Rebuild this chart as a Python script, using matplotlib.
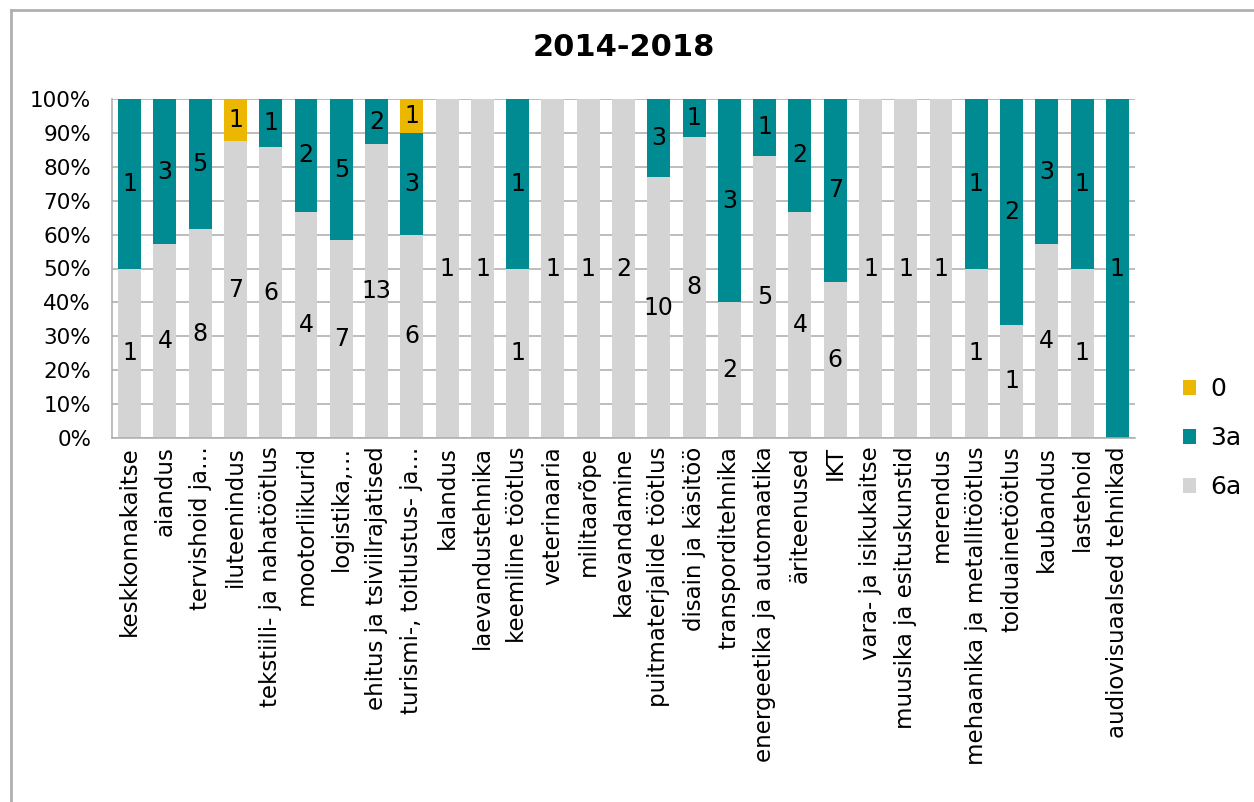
import numpy as np
import matplotlib.pyplot as plt
from matplotlib.lines import Line2D
from matplotlib.ticker import PercentFormatter

categories = ["keskkonnakaitse", "aiandus", "tervishoid ja…", "iluteenindus",
              "tekstiili- ja nahatöötlus", "mootorliikurid", "logistika,…",
              "ehitus ja tsiviilrajatised", "turismi-, toitlustus- ja…", "kalandus",
              "laevandustehnika", "keemiline töötlus", "veterinaaria", "militaarõpe",
              "kaevandamine", "puitmaterjalide töötlus", "disain ja käsitöö",
              "transporditehnika", "energeetika ja automaatika", "äriteenused", "IKT",
              "vara- ja isikukaitse", "muusika ja esituskunstid", "merendus",
              "mehaanika ja metallitöötlus", "toiduainetöötlus", "kaubandus",
              "lastehoid", "audiovisuaalsed tehnikad"]
v6a = [1, 4, 8, 7, 6, 4, 7, 13, 6, 1, 1, 1, 1, 1, 2, 10, 8, 2, 5, 4, 6, 1, 1, 1, 1, 1, 4, 1, 0]
v3a = [1, 3, 5, 0, 1, 2, 5, 2, 3, 0, 0, 1, 0, 0, 0, 3, 1, 3, 1, 2, 7, 0, 0, 0, 1, 2, 3, 1, 1]
v0 = [0, 0, 0, 1, 0, 0, 0, 0, 1, 0, 0, 0, 0, 0, 0, 0, 0, 0, 0, 0, 0, 0, 0, 0, 0, 0, 0, 0, 0]

colors = {"6a": "#D3D4D3", "3a": "#008B92", "0": "#EBB700"}

fig = plt.figure(figsize=(12.54, 8.02), dpi=100)
ax = fig.add_axes([112 / 1254, 1 - 438 / 802, 1023 / 1254, 339 / 802])

total = np.array(v6a) + np.array(v3a) + np.array(v0)
x = np.arange(len(categories))
bottom = np.zeros(len(categories))
handles = {}
for name, vals in [("6a", v6a), ("3a", v3a), ("0", v0)]:
    share = np.array(vals) / total * 100
    bars = ax.bar(x, share, 0.65, bottom=bottom, color=colors[name], zorder=2)
    handles[name] = bars
    for i, v in enumerate(vals):
        if v > 0:
            ax.text(x[i], bottom[i] + share[i] / 2, str(v), ha="center", va="center",
                    fontsize=17, zorder=3)
    bottom += share

ax.set_xlim(-0.5, len(categories) - 0.5)
ax.set_ylim(0, 100)
ax.set_yticks(np.arange(0, 101, 10))
ax.yaxis.set_major_formatter(PercentFormatter(decimals=0))
ax.grid(axis="y", color="#ABABAB", linewidth=1.1, zorder=0)
ax.set_xticks(x)
ax.set_xticklabels(categories, rotation=90, fontsize=16.5)
ax.tick_params(axis="y", labelsize=15.5, length=0, pad=15)
ax.tick_params(axis="x", length=0, pad=6)
for s in ["top", "right"]:
    ax.spines[s].set_visible(False)
for s in ["left", "bottom"]:
    ax.spines[s].set_color("#ABABAB")
    ax.spines[s].set_linewidth(1.1)

fig.text(0.5 * (112 + 1135) / 1254, 1 - 47 / 802, "2014-2018", ha="center", va="center",
         fontsize=22, fontweight="bold")

leg = fig.legend([handles["0"], handles["3a"], handles["6a"]], ["0", "3a", "6a"],
                 loc="center left", bbox_to_anchor=(1160 / 1254, 1 - 438 / 802),
                 frameon=False, fontsize=18, handlelength=0.55, handleheight=0.55,
                 labelspacing=1.0, handletextpad=0.55)

fig.add_artist(Line2D([11 / 1254, 11 / 1254], [0, 1 - 10 / 802], transform=fig.transFigure,
                      color="#B0B0B0", linewidth=2))
fig.add_artist(Line2D([11 / 1254, 1], [1 - 10 / 802, 1 - 10 / 802], transform=fig.transFigure,
                      color="#B0B0B0", linewidth=2))

fig.savefig("out.png", dpi=100)
